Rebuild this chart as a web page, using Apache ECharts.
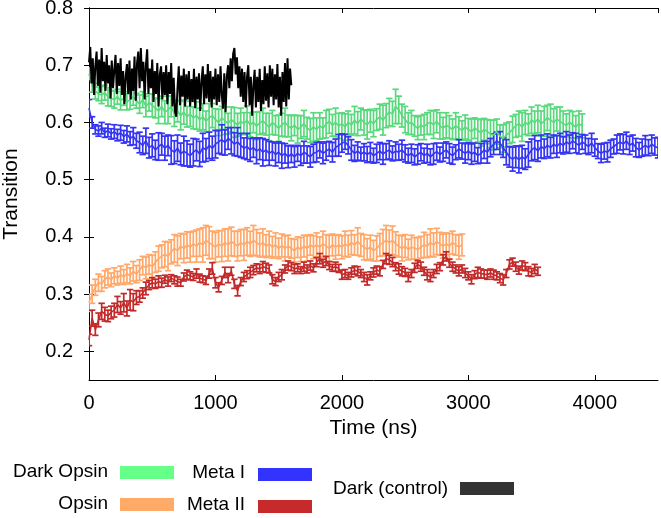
<!DOCTYPE html>
<html>
<head>
<meta charset="utf-8">
<script src="https://cdn.jsdelivr.net/npm/echarts@6/dist/echarts.min.js"></script>
<style>html,body{margin:0;padding:0;background:#fff}#c{width:661px;height:518px}</style>
</head>
<body>
<div id="c"></div>
<script>
// ---- data (time step 25 ns for error-bar series, 10 ns for the control trace)
const xTicks = [0, 1000, 2000, 3000, 4000];
const yTicks = [0.2, 0.3, 0.4, 0.5, 0.6, 0.7, 0.8];
const seriesNames = ['Dark Opsin', 'Opsin', 'Meta I', 'Meta II', 'Dark (control)'];

const darkOpsin = [
0.685,0.665,0.655,0.650,0.648,0.652,0.645,0.642,
0.640,0.645,0.638,0.642,0.636,0.640,0.645,0.638,
0.632,0.640,0.628,0.635,0.630,0.625,0.620,0.628,
0.618,0.622,0.628,0.615,0.620,0.612,0.618,0.610,
0.615,0.608,0.612,0.605,0.610,0.602,0.608,0.612,
0.605,0.600,0.608,0.603,0.598,0.605,0.600,0.596,
0.602,0.598,0.604,0.596,0.600,0.594,0.599,0.603,
0.597,0.592,0.600,0.595,0.590,0.596,0.600,0.594,
0.590,0.595,0.588,0.592,0.598,0.590,0.586,0.592,
0.588,0.594,0.590,0.597,0.602,0.595,0.600,0.594,
0.598,0.592,0.600,0.596,0.604,0.598,0.606,0.600,
0.596,0.603,0.598,0.605,0.610,0.604,0.612,0.618,
0.615,0.628,0.622,0.612,0.605,0.598,0.600,0.594,
0.590,0.595,0.592,0.598,0.600,0.596,0.602,0.594,
0.590,0.595,0.592,0.588,0.594,0.590,0.586,0.592,
0.588,0.584,0.590,0.586,0.582,0.588,0.584,0.580,
0.578,0.584,0.576,0.572,0.578,0.582,0.588,0.594,
0.598,0.592,0.600,0.596,0.604,0.600,0.606,0.598,
0.602,0.608,0.604,0.600,0.606,0.602,0.598,0.595,
0.600,0.596,0.592,0.598,0.594];
const darkOpsinErr = [
0.010,0.012,0.014,0.012,0.015,0.013,0.016,0.014,
0.015,0.013,0.016,0.012,0.014,0.017,0.015,0.013,
0.016,0.014,0.018,0.015,0.020,0.017,0.022,0.018,
0.020,0.024,0.018,0.022,0.019,0.025,0.021,0.018,
0.022,0.019,0.024,0.020,0.023,0.018,0.025,0.021,
0.019,0.023,0.020,0.024,0.018,0.022,0.026,0.020,
0.023,0.019,0.025,0.021,0.018,0.024,0.020,0.022,
0.019,0.024,0.021,0.017,0.023,0.020,0.025,0.019,
0.022,0.018,0.024,0.020,0.023,0.019,0.021,0.025,
0.020,0.023,0.018,0.024,0.021,0.019,0.025,0.022,
0.019,0.023,0.020,0.018,0.024,0.021,0.019,0.022,
0.025,0.020,0.023,0.019,0.022,0.026,0.021,0.024,
0.022,0.030,0.024,0.020,0.023,0.019,0.021,0.018,
0.020,0.017,0.022,0.019,0.021,0.024,0.020,0.023,
0.019,0.022,0.020,0.018,0.023,0.020,0.017,0.021,
0.019,0.022,0.018,0.020,0.023,0.019,0.021,0.024,
0.026,0.022,0.020,0.024,0.021,0.019,0.023,0.020,
0.022,0.025,0.021,0.019,0.023,0.020,0.024,0.022,
0.026,0.022,0.028,0.024,0.021,0.025,0.022,0.020,
0.021,0.023,0.020,0.022,0.021];

const metaI = [
0.625,0.600,0.588,0.585,0.590,0.582,0.586,0.580,
0.584,0.578,0.582,0.575,0.580,0.572,0.576,0.568,
0.565,0.560,0.568,0.556,0.560,0.552,0.558,0.562,
0.555,0.560,0.552,0.548,0.555,0.545,0.550,0.546,
0.542,0.548,0.552,0.545,0.556,0.552,0.560,0.555,
0.562,0.566,0.570,0.565,0.572,0.568,0.562,0.566,
0.560,0.555,0.558,0.552,0.556,0.550,0.554,0.548,
0.552,0.546,0.550,0.544,0.548,0.542,0.546,0.540,
0.545,0.540,0.546,0.542,0.548,0.544,0.540,0.546,
0.548,0.552,0.546,0.550,0.554,0.548,0.556,0.560,
0.564,0.566,0.560,0.552,0.546,0.550,0.545,0.548,
0.544,0.548,0.542,0.546,0.550,0.545,0.549,0.552,
0.546,0.550,0.548,0.552,0.546,0.542,0.546,0.540,
0.544,0.548,0.542,0.546,0.540,0.545,0.549,0.544,
0.548,0.552,0.546,0.542,0.548,0.554,0.550,0.546,
0.550,0.545,0.548,0.542,0.546,0.552,0.548,0.556,
0.562,0.568,0.564,0.556,0.548,0.540,0.536,0.540,
0.535,0.540,0.536,0.544,0.552,0.556,0.550,0.558,
0.554,0.560,0.556,0.562,0.558,0.564,0.560,0.566,
0.562,0.568,0.564,0.560,0.566,0.562,0.558,0.564,
0.556,0.550,0.546,0.550,0.548,0.554,0.558,0.562,
0.566,0.562,0.568,0.560,0.564,0.556,0.552,0.556,
0.560,0.556,0.562,0.558,0.556];
const metaIErr = [
0.015,0.010,0.008,0.009,0.010,0.008,0.011,0.009,
0.012,0.010,0.013,0.011,0.014,0.012,0.015,0.013,
0.018,0.016,0.022,0.018,0.020,0.017,0.024,0.019,
0.021,0.018,0.025,0.020,0.023,0.019,0.026,0.022,
0.020,0.024,0.019,0.022,0.025,0.020,0.023,0.021,
0.024,0.020,0.026,0.022,0.019,0.023,0.020,0.025,
0.021,0.018,0.023,0.020,0.017,0.022,0.019,0.024,
0.018,0.021,0.016,0.020,0.018,0.022,0.017,0.019,
0.015,0.018,0.014,0.017,0.019,0.015,0.018,0.016,
0.017,0.014,0.018,0.016,0.013,0.017,0.015,0.019,
0.016,0.013,0.015,0.018,0.014,0.016,0.012,0.015,
0.014,0.017,0.013,0.016,0.015,0.018,0.014,0.016,
0.013,0.016,0.014,0.017,0.015,0.013,0.016,0.014,
0.017,0.015,0.013,0.016,0.014,0.018,0.015,0.013,
0.016,0.014,0.017,0.015,0.013,0.016,0.014,0.017,
0.015,0.018,0.016,0.014,0.017,0.015,0.019,0.016,
0.018,0.015,0.020,0.017,0.022,0.018,0.021,0.019,
0.023,0.020,0.018,0.022,0.019,0.021,0.018,0.020,
0.017,0.020,0.018,0.016,0.019,0.017,0.015,0.018,
0.016,0.014,0.017,0.015,0.013,0.016,0.014,0.017,
0.015,0.013,0.016,0.014,0.017,0.015,0.013,0.016,
0.014,0.017,0.015,0.016,0.014,0.016,0.013,0.015,
0.017,0.014,0.016,0.015,0.018];

const opsin = [
0.285,0.300,0.312,0.320,0.318,0.326,0.330,0.325,
0.332,0.328,0.334,0.330,0.336,0.332,0.340,0.335,
0.342,0.350,0.346,0.352,0.348,0.356,0.362,0.366,
0.370,0.366,0.374,0.380,0.376,0.384,0.380,0.386,
0.382,0.388,0.384,0.390,0.386,0.394,0.390,0.386,
0.382,0.388,0.384,0.390,0.386,0.392,0.388,0.384,
0.390,0.386,0.392,0.388,0.394,0.390,0.386,0.390,
0.384,0.388,0.382,0.386,0.380,0.385,0.380,0.384,
0.380,0.376,0.382,0.378,0.384,0.380,0.386,0.382,
0.386,0.382,0.388,0.384,0.380,0.386,0.382,0.386,
0.382,0.388,0.384,0.390,0.386,0.392,0.386,0.382,
0.378,0.382,0.376,0.380,0.386,0.390,0.394,0.390,
0.394,0.388,0.384,0.380,0.384,0.378,0.382,0.380,
0.378,0.382,0.386,0.384,0.390,0.386,0.392,0.388,
0.384,0.388,0.384,0.390,0.386,0.382,0.386];
const opsinErr = [
0.015,0.016,0.014,0.015,0.013,0.015,0.014,0.012,
0.014,0.012,0.015,0.013,0.016,0.014,0.017,0.015,
0.018,0.016,0.019,0.017,0.020,0.018,0.022,0.020,
0.022,0.025,0.021,0.024,0.026,0.022,0.025,0.023,
0.026,0.022,0.028,0.024,0.030,0.026,0.028,0.024,
0.026,0.023,0.027,0.024,0.028,0.025,0.022,0.026,
0.023,0.027,0.024,0.022,0.026,0.023,0.021,0.024,
0.020,0.022,0.019,0.021,0.018,0.020,0.022,0.019,
0.017,0.020,0.018,0.021,0.019,0.022,0.018,0.020,
0.021,0.018,0.022,0.020,0.023,0.019,0.021,0.018,
0.020,0.022,0.019,0.021,0.018,0.024,0.020,0.022,
0.019,0.021,0.018,0.022,0.020,0.023,0.026,0.022,
0.025,0.021,0.019,0.022,0.020,0.018,0.021,0.019,
0.021,0.019,0.022,0.020,0.024,0.021,0.023,0.020,
0.021,0.019,0.022,0.020,0.018,0.021,0.019];

const metaII = [
0.220,0.258,0.238,0.255,0.270,0.265,0.262,0.268,
0.272,0.282,0.276,0.285,0.275,0.290,0.286,0.294,
0.296,0.302,0.310,0.316,0.320,0.318,0.322,0.320,
0.326,0.322,0.328,0.325,0.322,0.320,0.330,0.334,
0.332,0.330,0.336,0.328,0.326,0.324,0.336,0.345,
0.320,0.312,0.324,0.338,0.328,0.340,0.318,0.306,
0.322,0.330,0.334,0.338,0.342,0.346,0.344,0.348,
0.346,0.344,0.326,0.322,0.330,0.334,0.344,0.350,
0.348,0.344,0.346,0.342,0.348,0.344,0.350,0.346,
0.356,0.362,0.354,0.358,0.350,0.346,0.348,0.345,
0.334,0.336,0.332,0.338,0.342,0.340,0.336,0.330,
0.325,0.332,0.338,0.342,0.340,0.352,0.362,0.360,
0.356,0.348,0.344,0.340,0.338,0.330,0.336,0.346,
0.352,0.348,0.340,0.334,0.330,0.336,0.344,0.348,
0.360,0.366,0.354,0.348,0.344,0.340,0.344,0.337,
0.332,0.326,0.334,0.338,0.336,0.335,0.334,0.337,
0.334,0.332,0.328,0.325,0.336,0.352,0.356,0.348,
0.342,0.350,0.348,0.340,0.338,0.344,0.340];
const metaIIErr = [
0.010,0.014,0.010,0.012,0.014,0.012,0.010,0.011,
0.012,0.014,0.011,0.016,0.013,0.018,0.015,0.012,
0.010,0.009,0.011,0.008,0.009,0.008,0.010,0.008,
0.007,0.008,0.006,0.007,0.008,0.006,0.007,0.008,
0.007,0.006,0.008,0.007,0.006,0.007,0.008,0.010,
0.009,0.008,0.007,0.009,0.008,0.007,0.008,0.009,
0.007,0.008,0.007,0.009,0.008,0.007,0.008,0.009,
0.008,0.007,0.008,0.007,0.008,0.009,0.007,0.008,
0.007,0.008,0.007,0.006,0.008,0.007,0.008,0.007,
0.008,0.009,0.007,0.008,0.007,0.006,0.008,0.007,
0.008,0.007,0.006,0.008,0.007,0.008,0.007,0.008,
0.009,0.007,0.008,0.007,0.008,0.007,0.009,0.008,
0.008,0.007,0.009,0.008,0.007,0.008,0.007,0.008,
0.007,0.008,0.007,0.009,0.008,0.007,0.008,0.007,
0.009,0.008,0.007,0.008,0.007,0.008,0.007,0.008,
0.007,0.008,0.007,0.009,0.008,0.007,0.008,0.007,
0.008,0.007,0.008,0.009,0.007,0.008,0.007,0.008,
0.007,0.008,0.007,0.008,0.007,0.008,0.007];

const darkControl = [
0.705,0.732,0.668,0.712,0.648,0.698,0.724,0.664,0.710,0.652,
0.730,0.672,0.706,0.655,0.718,0.668,0.700,0.642,0.708,0.660,
0.692,0.718,0.650,0.704,0.664,0.712,0.648,0.690,0.632,0.680,
0.702,0.650,0.708,0.640,0.694,0.655,0.715,0.638,0.704,0.724,
0.660,0.730,0.672,0.706,0.640,0.700,0.728,0.650,0.694,0.660,
0.710,0.636,0.690,0.650,0.704,0.628,0.684,0.698,0.640,0.688,
0.648,0.700,0.632,0.688,0.650,0.704,0.628,0.678,0.620,0.610,
0.660,0.698,0.630,0.682,0.645,0.694,0.628,0.684,0.640,0.690,
0.628,0.676,0.636,0.694,0.625,0.680,0.640,0.686,0.620,0.672,
0.698,0.632,0.684,0.642,0.702,0.636,0.690,0.626,0.680,0.640,
0.694,0.630,0.684,0.636,0.698,0.648,0.624,0.686,0.618,0.680,
0.700,0.660,0.712,0.672,0.720,0.730,0.684,0.714,0.660,0.698,
0.645,0.694,0.636,0.688,0.626,0.680,0.700,0.630,0.680,0.612,
0.664,0.692,0.626,0.680,0.636,0.694,0.620,0.674,0.632,0.698,
0.638,0.686,0.626,0.700,0.645,0.694,0.630,0.684,0.640,0.702,
0.626,0.680,0.612,0.688,0.636,0.704,0.628,0.712,0.640,0.694,
0.665];

const STEP = 25, CTRL_STEP = 10;

const lineColors = {'Dark Opsin':'#5ad97c','Opsin':'#ffa86a','Meta I':'#3434f2','Meta II':'#c22a2a','Dark (control)':'#000000'};
const legendColors = {'Dark Opsin':'#66ff88','Opsin':'#ffaa66','Meta I':'#3333ff','Meta II':'#c62a2a','Dark (control)':'#333333'};

function triples(vals, errs, step){ return vals.map((v,i)=>[i*step, v, errs[i] || 0]); }
function pairs(vals, step){ return vals.map((v,i)=>[i*step, v]); }

function errRender(color){
  return function(params, api){
    const x = api.value(0), y = api.value(1), e = api.value(2);
    const p1 = api.coord([x, y + e]), p2 = api.coord([x, y - e]);
    const w = 3.2, st = {stroke: color, lineWidth: 1.7};
    return {type:'group', children:[
      {type:'line', shape:{x1:p1[0],y1:p1[1],x2:p2[0],y2:p2[1]}, style:st},
      {type:'line', shape:{x1:p1[0]-w,y1:p1[1],x2:p1[0]+w,y2:p1[1]}, style:st},
      {type:'line', shape:{x1:p2[0]-w,y1:p2[1],x2:p2[0]+w,y2:p2[1]}, style:st}
    ]};
  };
}

function errSeries(name, vals, errs){
  const c = lineColors[name];
  return [
    {type:'custom', name:name, renderItem: errRender(c), data: triples(vals, errs, STEP),
     encode:{x:0, y:1}, clip:true, silent:true},
    {type:'line', name:name, data: pairs(vals, STEP), showSymbol:false,
     lineStyle:{color:c, width:1.6}, itemStyle:{color:c}, clip:true, silent:true}
  ];
}

const FONT = 'Liberation Sans';

const series = [].concat(
  errSeries('Dark Opsin', darkOpsin, darkOpsinErr),
  errSeries('Opsin', opsin, opsinErr),
  errSeries('Meta I', metaI, metaIErr),
  errSeries('Meta II', metaII, metaIIErr),
  [{type:'line', name:'Dark (control)', data: pairs(darkControl, CTRL_STEP), showSymbol:false,
    lineStyle:{color:'#000', width:2}, clip:true, silent:true}]
);

const axisLineStyle = {show:true, lineStyle:{color:'#000', width:1}};
const tickStyle = {show:true, inside:true, length:5, lineStyle:{color:'#000', width:1}};

// legend built as graphics (text right-aligned, colour box to the right)
const legendLayout = [
  {name:'Dark Opsin', tx:108, ty:472, bx:120, by:466},
  {name:'Opsin', tx:108, ty:504, bx:120, by:498},
  {name:'Meta I', tx:245, ty:473, bx:258, by:468},
  {name:'Meta II', tx:245, ty:505, bx:258, by:500},
  {name:'Dark (control)', tx:448, ty:489, bx:460, by:482}
];
const graphics = [];
legendLayout.forEach(l => {
  graphics.push({type:'text', x:l.tx, y:l.ty,
    style:{text:l.name, font:'19px "' + FONT + '"', fill:'#000', textAlign:'right', textVerticalAlign:'middle'}});
  graphics.push({type:'rect', x:l.bx, y:l.by, shape:{x:0, y:0, width:54, height:13},
    style:{fill:legendColors[l.name]}});
});

const chart = echarts.init(document.getElementById('c'), null, {renderer:'canvas'});
chart.setOption({
  animation:false,
  backgroundColor:'#fff',
  grid:{left:89, right:3, top:8, bottom:138, containLabel:false, outerBoundsMode:'none'},
  xAxis:[
    {type:'value', position:'bottom', min:0, max:4500, interval:1000,
     axisLine:axisLineStyle, axisTick:tickStyle, splitLine:{show:false},
     axisLabel:{color:'#000', fontSize:20, fontFamily:FONT, margin:13, showMaxLabel:false,
       formatter: v => String(v)},
     name:'Time (ns)', nameLocation:'middle', nameGap:38,
     nameTextStyle:{color:'#000', fontSize:21, fontFamily:FONT}},
    {type:'value', position:'top', min:0, max:4500, interval:1000,
     axisLine:axisLineStyle, axisTick:tickStyle,
     axisLabel:{show:false}, splitLine:{show:false}}
  ],
  yAxis:[
    {type:'value', position:'left', min:0.15, max:0.8,
     axisLine:axisLineStyle, axisTick:Object.assign({}, tickStyle, {customValues:yTicks}),
     splitLine:{show:false},
     axisLabel:{color:'#000', fontSize:20, fontFamily:FONT, margin:16,
       customValues:yTicks, formatter: v => v.toFixed(1)},
     name:'Transition', nameLocation:'middle', nameGap:67, nameRotate:90,
     nameTextStyle:{color:'#000', fontSize:21, fontFamily:FONT}},
    {type:'value', position:'right', min:0.15, max:0.8,
     axisLine:axisLineStyle, axisTick:Object.assign({}, tickStyle, {customValues:yTicks}),
     axisLabel:{show:false}, splitLine:{show:false}}
  ],
  graphic: graphics,
  series: series
});
</script>
</body>
</html>
